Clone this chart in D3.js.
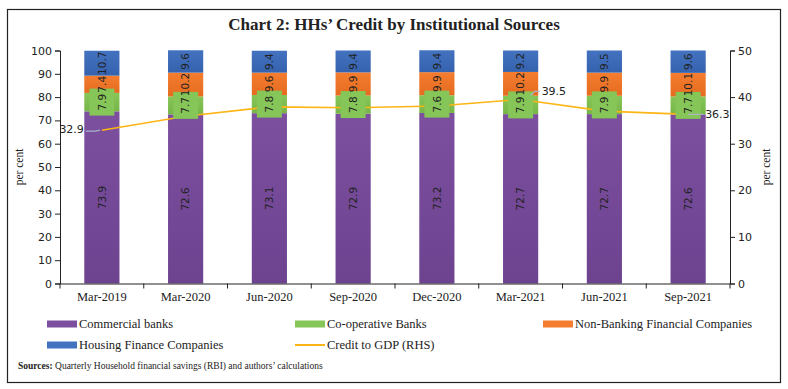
<!DOCTYPE html>
<html>
<head>
<meta charset="utf-8">
<script src="https://cdn.jsdelivr.net/npm/d3@7"></script>
<style>
  body { margin: 0; background: #fff; }
  svg { display: block; }
</style>
</head>
<body>
<svg width="788" height="389"></svg>
<script>
var categories = ["Mar-2019", "Mar-2020", "Jun-2020", "Sep-2020", "Dec-2020", "Mar-2021", "Jun-2021", "Sep-2021"];
var commercial = [73.9, 72.6, 73.1, 72.9, 73.2, 72.7, 72.7, 72.6];
var coop = [7.9, 7.7, 7.8, 7.8, 7.6, 7.9, 7.9, 7.7];
var nbfc = [7.4, 10.2, 9.6, 9.9, 9.9, 10.2, 9.9, 10.1];
var hfc = [10.7, 9.6, 9.4, 9.4, 9.4, 9.2, 9.5, 9.6];
var creditGdp = [32.9, 35.9, 37.9, 37.7, 38.1, 39.5, 37.0, 36.3];
var leftTicks = [0, 10, 20, 30, 40, 50, 60, 70, 80, 90, 100];
var rightTicks = [0, 10, 20, 30, 40, 50];

var series = [
  {name: "Commercial banks", values: commercial, color: "#7c4f9f", dark: "#6d4390"},
  {name: "Co-operative Banks", values: coop, color: "#86c557", dark: "#77b548"},
  {name: "Non-Banking Financial Companies", values: nbfc, color: "#f47d30", dark: "#e56b1f"},
  {name: "Housing Finance Companies", values: hfc, color: "#4372c0", dark: "#3562ad"}
];

var svg = d3.select("svg"),
    margin = {top: 50.5, right: 58, bottom: 105.5, left: 60},
    width = 788 - margin.left - margin.right,
    height = 389 - margin.top - margin.bottom;

// outer frame
svg.append("rect")
    .attr("x", 7.5).attr("y", 9.5)
    .attr("width", 773).attr("height", 373)
    .attr("fill", "none").attr("stroke", "#222").attr("stroke-width", 1.2);

svg.append("text")
    .attr("x", 394).attr("y", 30)
    .attr("text-anchor", "middle")
    .attr("font-family", "Liberation Serif, serif")
    .attr("font-weight", "bold")
    .attr("font-size", 17)
    .attr("fill", "#222")
    .text("Chart 2: HHs\u2019 Credit by Institutional Sources");

var defs = svg.append("defs");
series.forEach(function(s, i) {
  var gr = defs.append("linearGradient").attr("id", "grad" + i)
      .attr("x1", 0).attr("x2", 0).attr("y1", 0).attr("y2", 1);
  gr.append("stop").attr("offset", "0%").attr("stop-color", s.color);
  gr.append("stop").attr("offset", "100%").attr("stop-color", s.dark);
});

var g = svg.append("g").attr("transform", "translate(" + margin.left + "," + margin.top + ")");

var x = d3.scaleBand().domain(categories).range([0, width]).paddingInner(0.58).paddingOuter(0.29);
var xOuter = d3.scaleBand().domain(categories).range([0, width]);
var y = d3.scaleLinear().domain([0, 100]).range([height, 0]);
var y2 = d3.scaleLinear().domain([0, 50]).range([height, 0]);

// stack
var rows = categories.map(function(c, i) {
  var r = {cat: c};
  series.forEach(function(s) { r[s.name] = s.values[i]; });
  return r;
});
var stack = d3.stack().keys(series.map(function(s) { return s.name; }));
var stacked = stack(rows);

var layers = g.selectAll(".layer").data(stacked).enter().append("g")
    .attr("fill", function(d, i) { return "url(#grad" + i + ")"; });

layers.selectAll("rect").data(function(d) { return d; }).enter().append("rect")
    .attr("x", function(d) { return x(d.data.cat); })
    .attr("width", x.bandwidth())
    .attr("y", function(d) { return y(d[1]); })
    .attr("height", function(d) { return y(d[0]) - y(d[1]); });

// credit to GDP line (behind the label boxes)
var line = d3.line()
    .x(function(d, i) { return xOuter(categories[i]) + xOuter.bandwidth() / 2; })
    .y(function(d) { return y2(d); });
g.append("path").datum(creditGdp)
    .attr("fill", "none").attr("stroke", "#fdb515").attr("stroke-width", 1.6)
    .attr("d", line);

// green label boxes for co-operative banks
g.selectAll(".coopbox").data(stacked[1]).enter().append("rect")
    .attr("x", function(d) { return x(d.data.cat) + x.bandwidth() / 2 - 12.5; })
    .attr("width", 25)
    .attr("y", function(d) { return (y(d[0]) + y(d[1])) / 2 - 13.5; })
    .attr("height", 27)
    .attr("fill", "#86c557");

// segment labels
stacked.forEach(function(layer) {
  g.selectAll(null).data(layer).enter().append("text")
      .attr("transform", function(d) {
        var cx = x(d.data.cat) + x.bandwidth() / 2;
        var cy = (y(d[0]) + y(d[1])) / 2;
        return "translate(" + cx + "," + cy + ") rotate(-90)";
      })
      .attr("text-anchor", "middle")
      .attr("dy", "0.35em")
      .attr("font-family", "DejaVu Sans, sans-serif")
      .attr("font-size", 10.5)
      .attr("fill", "#222")
      .text(function(d) { return d3.format(".1f")(d[1] - d[0]); });
});

// line labels with leaders
function px(i) { return xOuter(categories[i]) + xOuter.bandwidth() / 2; }
var lineLabels = [
  {i: 0, dx: -18, dy: -1, anchor: "end", lead: [[-2, 0], [-6, 1], [-16, 1]]},
  {i: 5, dx: 21, dy: -8, anchor: "start", lead: [[10, -4], [14, -8], [19, -8]]},
  {i: 7, dx: 17, dy: 0, anchor: "start", lead: [[0, 0], [15, 0]]}
];
lineLabels.forEach(function(l) {
  var cx = px(l.i), cy = y2(creditGdp[l.i]);
  g.append("path")
      .attr("d", d3.line()(l.lead.map(function(p) { return [cx + p[0], cy + p[1]]; })))
      .attr("fill", "none").attr("stroke", "#a9b4c9").attr("stroke-width", 1.2);
  g.append("text")
      .attr("x", cx + l.dx).attr("y", cy + l.dy)
      .attr("dy", "0.35em")
      .attr("text-anchor", l.anchor)
      .attr("font-family", "DejaVu Sans, sans-serif")
      .attr("font-size", 11)
      .attr("fill", "#222")
      .text(d3.format(".1f")(creditGdp[l.i]));
});

// axes
var xAxis = g.append("g")
    .attr("transform", "translate(0," + height + ")")
    .call(d3.axisBottom(xOuter).tickSize(0).tickPadding(9));
xAxis.selectAll("text").attr("font-family", "Liberation Serif, serif").attr("font-size", 12.5).attr("fill", "#222");
xAxis.select(".domain").attr("stroke", "#222");
xAxis.selectAll(".sep").data(categories.concat(["end"])).enter().append("line")
    .attr("x1", function(d, i) { return i * xOuter.bandwidth(); })
    .attr("x2", function(d, i) { return i * xOuter.bandwidth(); })
    .attr("y1", 0).attr("y2", 5).attr("stroke", "#222");

var yAxis = g.append("g")
    .call(d3.axisLeft(y).tickValues(leftTicks).tickSize(5).tickPadding(3));
yAxis.selectAll("text").attr("font-family", "DejaVu Sans, sans-serif").attr("font-size", 11).attr("fill", "#222");
yAxis.selectAll("line, .domain").attr("stroke", "#222");

var yAxis2 = g.append("g")
    .attr("transform", "translate(" + width + ",0)")
    .call(d3.axisRight(y2).tickValues(rightTicks).tickSize(5).tickPadding(3));
yAxis2.selectAll("text").attr("font-family", "DejaVu Sans, sans-serif").attr("font-size", 11).attr("fill", "#222");
yAxis2.selectAll("line, .domain").attr("stroke", "#222");

g.append("text")
    .attr("transform", "translate(-37," + height / 2 + ") rotate(-90)")
    .attr("text-anchor", "middle")
    .attr("font-family", "Liberation Serif, serif").attr("font-size", 11.5).attr("fill", "#222")
    .text("per cent");
g.append("text")
    .attr("transform", "translate(" + (width + 40) + "," + height / 2 + ") rotate(-90)")
    .attr("text-anchor", "middle")
    .attr("font-family", "Liberation Serif, serif").attr("font-size", 11.5).attr("fill", "#222")
    .text("per cent");

// legend
var legendItems = [
  {name: series[0].name, color: series[0].color, type: "rect", x: 47, y: 324},
  {name: series[1].name, color: series[1].color, type: "rect", x: 295, y: 324},
  {name: series[2].name, color: series[2].color, type: "rect", x: 543, y: 324},
  {name: series[3].name, color: series[3].color, type: "rect", x: 47, y: 345},
  {name: "Credit to GDP (RHS)", color: "#fdb515", type: "line", x: 295, y: 345}
];
var lg = svg.append("g");
legendItems.forEach(function(it) {
  if (it.type === "rect") {
    lg.append("rect").attr("x", it.x).attr("y", it.y - 3.5).attr("width", 30).attr("height", 7).attr("fill", it.color);
  } else {
    lg.append("line").attr("x1", it.x).attr("x2", it.x + 30).attr("y1", it.y).attr("y2", it.y)
        .attr("stroke", it.color).attr("stroke-width", 2);
  }
  lg.append("text").attr("x", it.x + 32).attr("y", it.y).attr("dy", "0.35em")
      .attr("font-family", "Liberation Serif, serif").attr("font-size", 12.5).attr("fill", "#222")
      .text(it.name);
});

var src = svg.append("text").attr("x", 18).attr("y", 369)
    .attr("font-family", "Liberation Serif, serif").attr("font-size", 9.5).attr("fill", "#222");
src.append("tspan").attr("font-weight", "bold").text("Sources:");
src.append("tspan").text(" Quarterly Household financial savings (RBI) and authors\u2019 calculations");
</script>
</body>
</html>
